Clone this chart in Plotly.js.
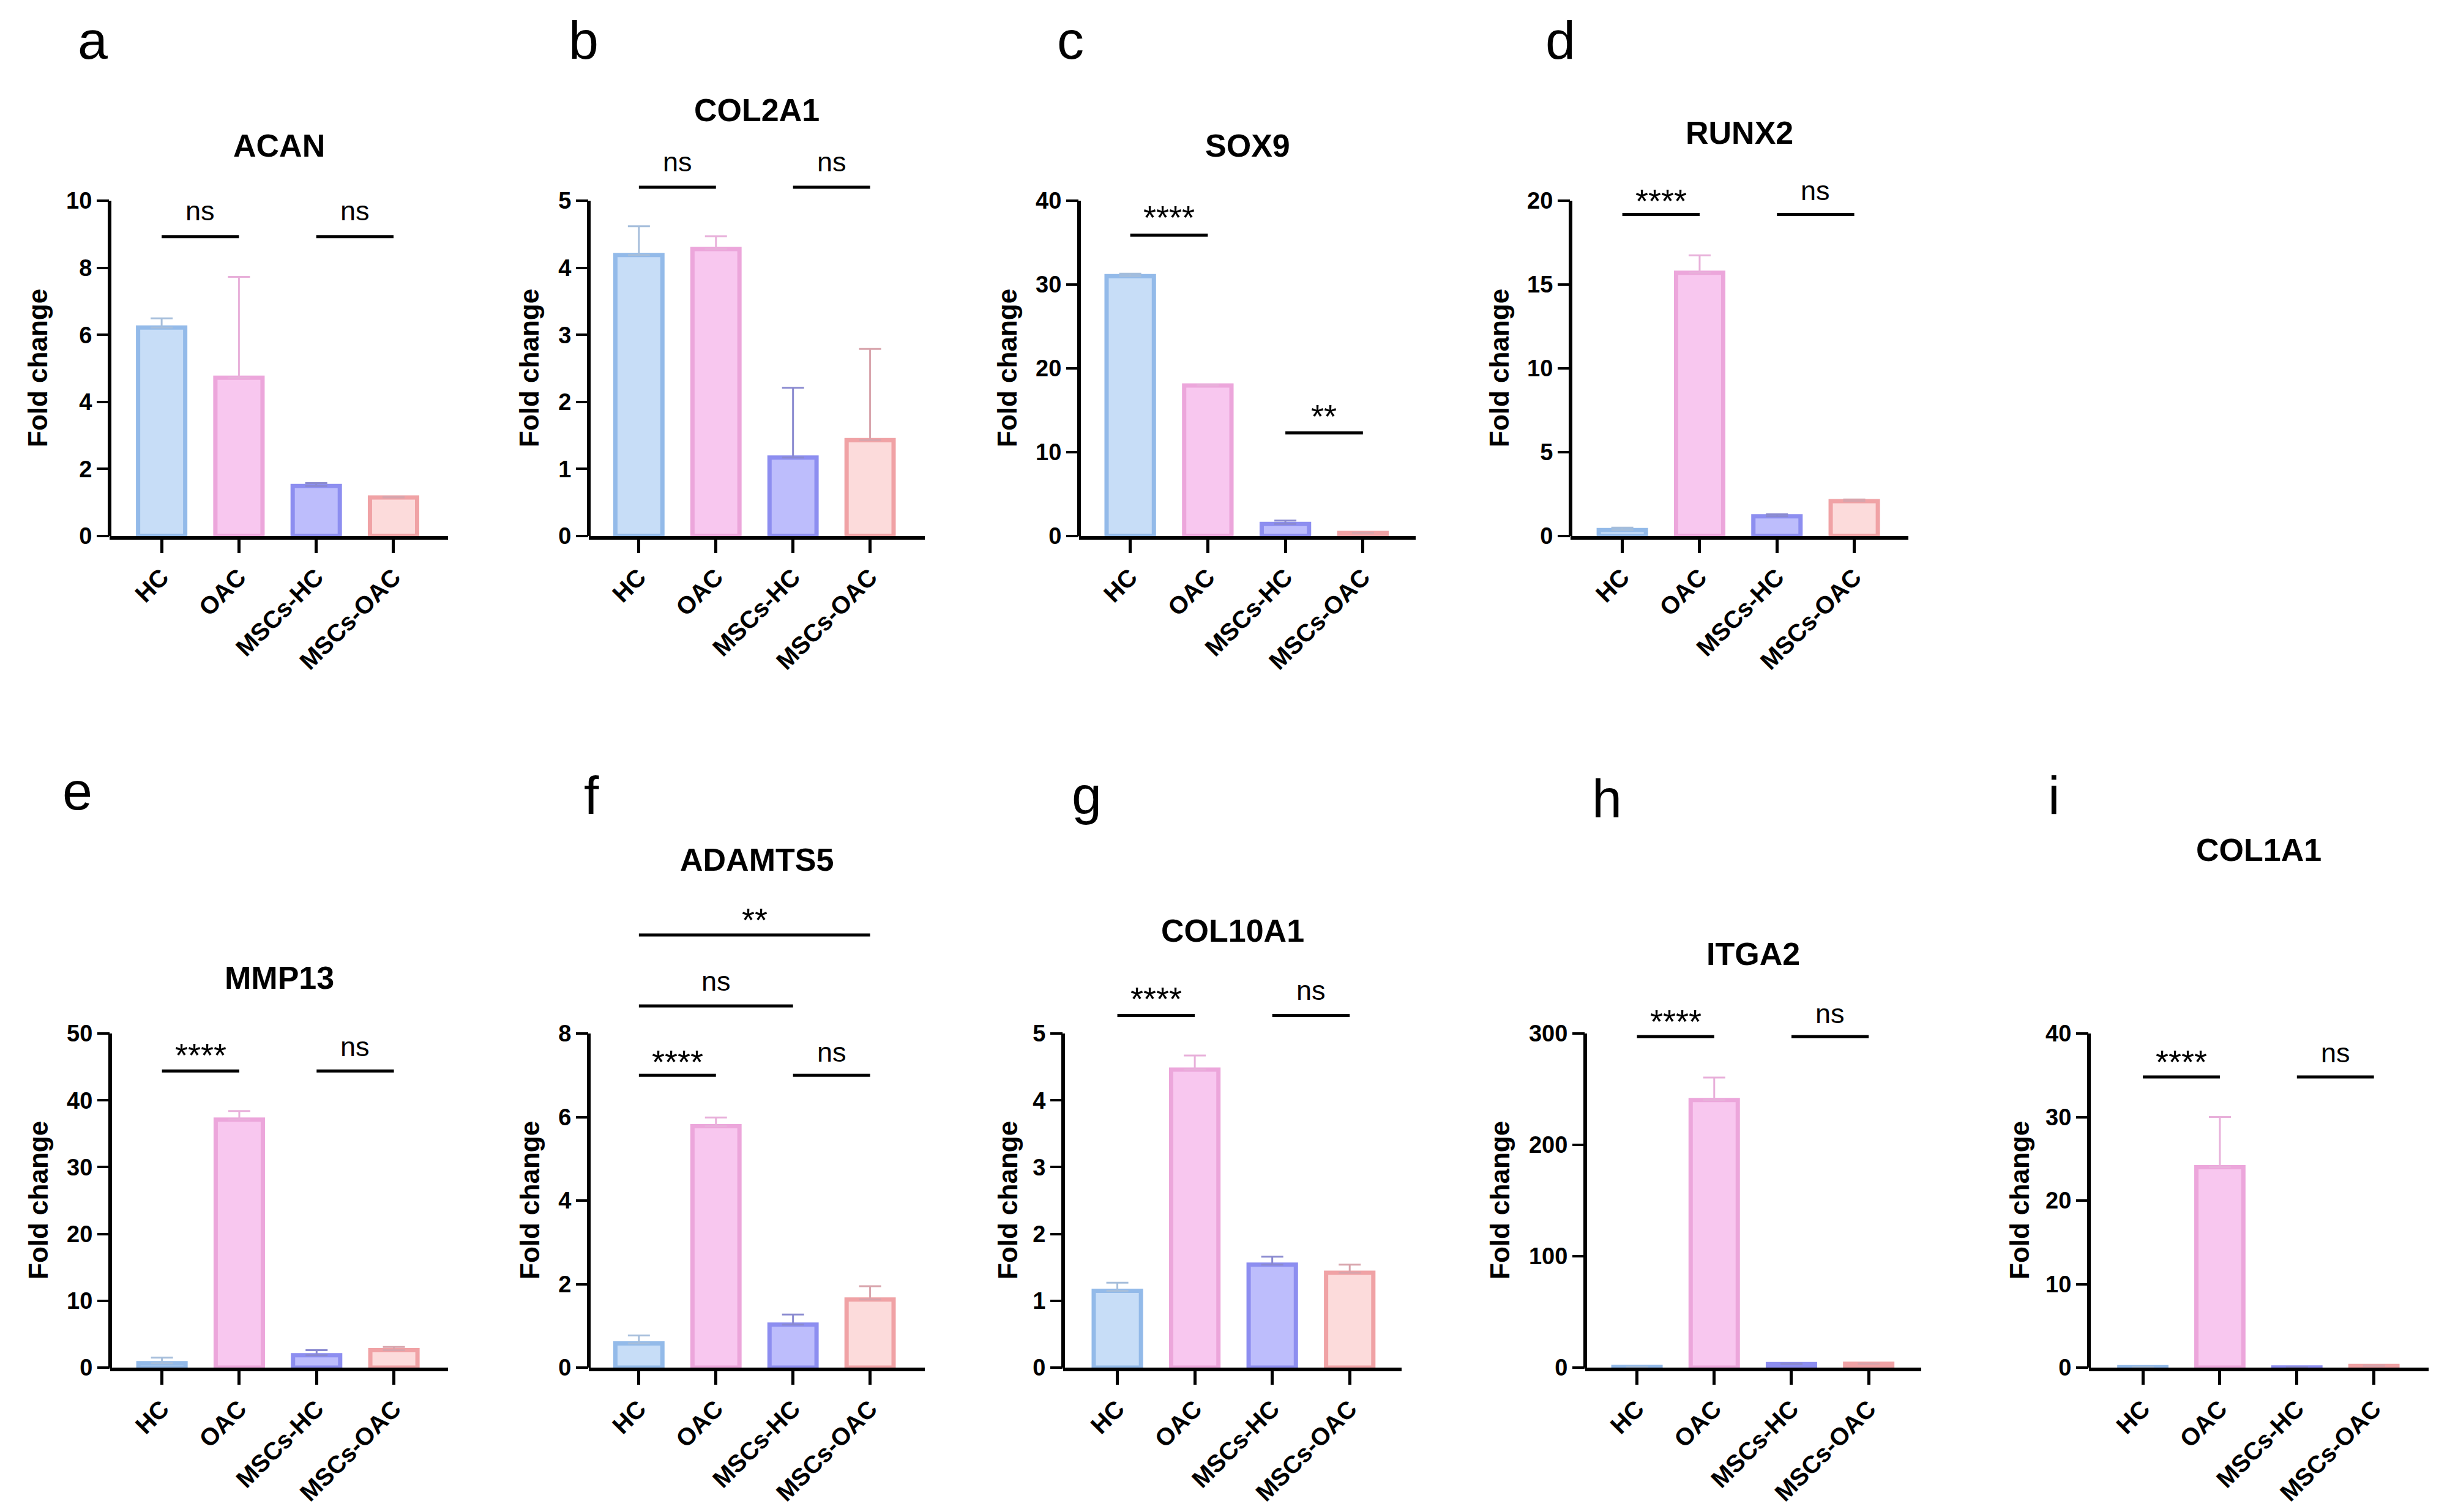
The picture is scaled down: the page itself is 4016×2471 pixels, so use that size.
<!DOCTYPE html>
<html>
<head>
<meta charset="utf-8">
<script src="https://cdn.plot.ly/plotly-3.0.1.min.js"></script>
<style>
  html, body { margin: 0; padding: 0; background: #ffffff; }
  #fig { width: 4016px; height: 2471px; }
</style>
</head>
<body>
<div id="fig"></div>
<script>
// ---- data: relative expression (fold change), mean and SD per group ----
const groups = ['HC', 'OAC', 'MSCs-HC', 'MSCs-OAC'];

const acanMean    = [6.22, 4.72, 1.49, 1.15];
const acanSD      = [0.27, 3.01, 0.09, 0.02];
const col2a1Mean  = [4.19, 4.28, 1.17, 1.43];
const col2a1SD    = [0.43, 0.19, 1.04, 1.36];
const sox9Mean    = [31.0, 17.95, 1.44, 0.36];
const sox9SD      = [0.3, 0.1, 0.41, 0.05];
const runx2Mean   = [0.36, 15.7, 1.18, 2.08];
const runx2SD     = [0.14, 1.04, 0.12, 0.10];
const mmp13Mean   = [0.67, 37.1, 1.85, 2.6];
const mmp13SD     = [0.81, 1.3, 0.75, 0.5];
const adamts5Mean = [0.58, 5.78, 1.03, 1.63];
const adamts5SD   = [0.19, 0.21, 0.24, 0.32];
const col10a1Mean = [1.15, 4.46, 1.54, 1.42];
const col10a1SD   = [0.12, 0.21, 0.12, 0.12];
const itga2Mean   = [0.5, 240.3, 3.2, 3.4];
const itga2SD     = [0.2, 20.1, 0.5, 0.3];
const col1a1Mean  = [0.06, 24.0, 0.02, 0.2];
const col1a1SD    = [0.02, 6.0, 0.01, 0.05];

// significance brackets: [from group, to group, bar height, label, label height]
const acanSig    = [[0, 1, 8.93, 'ns', 9.69], [2, 3, 8.93, 'ns', 9.69]];
const col2a1Sig  = [[0, 1, 5.2, 'ns', 5.58], [2, 3, 5.2, 'ns', 5.58]];
const sox9Sig    = [[0, 1, 35.9, '****', 38.0], [2, 3, 12.3, '**', 14.3]];
const runx2Sig   = [[0, 1, 19.18, '****', 20.0], [2, 3, 19.18, 'ns', 20.6]];
const mmp13Sig   = [[0, 1, 44.4, '****', 46.8], [2, 3, 44.4, 'ns', 48.0]];
const adamts5Sig = [[0, 1, 7.0, '****', 7.32], [2, 3, 7.0, 'ns', 7.56],
                    [0, 2, 8.66, 'ns', 9.26], [0, 3, 10.36, '**', 10.72]];
const col10a1Sig = [[0, 1, 5.27, '****', 5.52], [2, 3, 5.27, 'ns', 5.65]];
const itga2Sig   = [[0, 1, 297.3, '****', 311], [2, 3, 297.3, 'ns', 318]];
const col1a1Sig  = [[0, 1, 34.8, '****', 36.6], [2, 3, 34.8, 'ns', 37.7]];

// y-axis tick ranges
const tickMax  = [10, 5, 40, 20, 50, 8, 5, 300, 40];
const tickStep = [2, 1, 10, 5, 10, 2, 1, 100, 10];

const genes   = ['ACAN', 'COL2A1', 'SOX9', 'RUNX2', 'MMP13', 'ADAMTS5', 'COL10A1', 'ITGA2', 'COL1A1'];
const letters = ['a', 'b', 'c', 'd', 'e', 'f', 'g', 'h', 'i'];
const means   = [acanMean, col2a1Mean, sox9Mean, runx2Mean, mmp13Mean, adamts5Mean, col10a1Mean, itga2Mean, col1a1Mean];
const sds     = [acanSD, col2a1SD, sox9SD, runx2SD, mmp13SD, adamts5SD, col10a1SD, itga2SD, col1a1SD];
const sigs    = [acanSig, col2a1Sig, sox9Sig, runx2Sig, mmp13Sig, adamts5Sig, col10a1Sig, itga2Sig, col1a1Sig];

// ---- page geometry (pixels) ----
const W = 4016, H = 2471;
// axis frame: left/right of x axis, top (max tick) / bottom (zero) of y axis
const frames = [
  {l: 179,  r: 732,  t: 328,  b: 876,  xr: [-0.674, 3.705], titleY: 238, letX: 151,  letBase: 95,   labX: 62},
  {l: 962,  r: 1511, t: 328,  b: 876,  xr: [-0.650, 3.710], titleY: 180, letX: 953,  letBase: 95,   labX: 865},
  {l: 1763, r: 2313, t: 328,  b: 876,  xr: [-0.660, 3.680], titleY: 238, letX: 1749, letBase: 95,   labX: 1646},
  {l: 2566, r: 3118, t: 328,  b: 876,  xr: [-0.670, 3.700], titleY: 217, letX: 2549, letBase: 95,   labX: 2450},
  {l: 180,  r: 732,  t: 1689, b: 2235, xr: [-0.670, 3.700], titleY: 1598, letX: 126, letBase: 1322, labX: 62},
  {l: 962,  r: 1511, t: 1689, b: 2235, xr: [-0.650, 3.710], titleY: 1405, letX: 966, letBase: 1330, labX: 865},
  {l: 1737, r: 2290, t: 1689, b: 2235, xr: [-0.700, 3.670], titleY: 1521, letX: 1775, letBase: 1330, labX: 1646},
  {l: 2590, r: 3139, t: 1689, b: 2235, xr: [-0.670, 3.680], titleY: 1559, letX: 2625, letBase: 1334, labX: 2450},
  {l: 3413, r: 3968, t: 1689, b: 2235, xr: [-0.700, 3.710], titleY: 1389, letX: 3356, letBase: 1330, labX: 3299}
];

// group colours: fill, outline, error bar
const fills = ['#c7ddf7', '#f8c7ef', '#bdbdfc', '#fcdbdb'];
const edges = ['#93bae9', '#eca6db', '#8d8ef0', '#f0a2a5'];
const errs  = ['#a6bedb', '#e8b0da', '#8a8ad0', '#d8a4ac'];

const FONT = '"Liberation Sans", Arial, Helvetica, sans-serif';

const traces = [];
const shapes = [];
const annotations = [];
const layout = {
  width: W, height: H,
  margin: {l: 0, r: 0, t: 0, b: 0},
  paper_bgcolor: '#ffffff', plot_bgcolor: 'rgba(0,0,0,0)',
  showlegend: false, barmode: 'overlay',
  font: {family: FONT, color: '#000000'}
};

genes.forEach((gene, k) => {
  const s = k === 0 ? '' : String(k + 1);
  const f = frames[k];
  const sig = sigs[k];

  // extend the y range above the last tick so the brackets fit inside the subplot
  const labelTop = Math.max(...sig.map(d => d[4]));
  const rangeTop = Math.max(tickMax[k], labelTop + 0.05 * tickMax[k]);
  const topPx = f.b - (rangeTop / tickMax[k]) * (f.b - f.t);

  const tv = [];
  for (let v = 0; v <= tickMax[k] + 1e-9; v += tickStep[k]) tv.push(v);

  layout['xaxis' + s] = {
    domain: [f.l / W, f.r / W], anchor: 'y' + s,
    type: 'category', categoryorder: 'array', categoryarray: groups,
    range: f.xr, fixedrange: true,
    showline: true, linecolor: '#000000', linewidth: 6,
    ticks: 'outside', ticklen: 22, tickwidth: 5, tickcolor: '#000000',
    tickangle: -45, tickfont: {family: FONT, size: 40, weight: 'bold', color: '#000000'},
    showgrid: false, zeroline: false
  };
  layout['yaxis' + s] = {
    domain: [1 - f.b / H, 1 - topPx / H], anchor: 'x' + s,
    range: [0, rangeTop], fixedrange: true,
    tickmode: 'array', tickvals: tv,
    ticks: 'outside', ticklen: 20, tickwidth: 4, tickcolor: '#000000',
    tickfont: {family: FONT, size: 38, weight: 'bold', color: '#000000'},
    showline: false, showgrid: false, zeroline: false
  };

  // bars with upward SD error bars
  groups.forEach((g, i) => {
    traces.push({
      type: 'bar', x: [g], y: [means[k][i]], width: [0.61],
      xaxis: 'x' + s, yaxis: 'y' + s,
      marker: {color: fills[i], line: {color: edges[i], width: 7}},
      error_y: {type: 'data', symmetric: false, array: [sds[k][i]], arrayminus: [0],
                color: errs[i], thickness: 3, width: 18},
      hoverinfo: 'skip'
    });
  });

  // y axis line from zero to the top tick
  shapes.push({type: 'line', xref: 'x' + s + ' domain', yref: 'y' + s,
               x0: 0, x1: 0, y0: 0, y1: tickMax[k], line: {color: '#000000', width: 6}});

  // significance brackets
  sig.forEach(([a, b, yb, txt, yt]) => {
    shapes.push({type: 'line', xref: 'x' + s, yref: 'y' + s,
                 x0: a, x1: b, y0: yb, y1: yb, line: {color: '#000000', width: 5}});
    annotations.push({xref: 'x' + s, yref: 'y' + s, x: (a + b) / 2, y: yt,
                      text: txt, showarrow: false, xanchor: 'center', yanchor: 'middle',
                      font: {family: FONT, size: txt === 'ns' ? 45 : 54, color: '#000000'}});
  });

  // gene title
  annotations.push({xref: 'paper', yref: 'paper', x: (f.l + f.r) / 2 / W, y: 1 - f.titleY / H,
                    text: gene, showarrow: false, xanchor: 'center', yanchor: 'middle',
                    font: {family: FONT, size: 52, weight: 'bold', color: '#000000'}});
  // panel letter
  annotations.push({xref: 'paper', yref: 'paper', x: f.letX / W, y: 1 - (f.letBase - 30) / H,
                    text: letters[k], showarrow: false, xanchor: 'center', yanchor: 'middle',
                    font: {family: FONT, size: 88, color: '#000000'}});
  // y axis title
  annotations.push({xref: 'paper', yref: 'paper', x: f.labX / W, y: 1 - (f.t + f.b) / 2 / H,
                    text: 'Fold change', textangle: -90, showarrow: false,
                    xanchor: 'center', yanchor: 'middle',
                    font: {family: FONT, size: 44, weight: 'bold', color: '#000000'}});
});

layout.shapes = shapes;
layout.annotations = annotations;

Plotly.newPlot('fig', traces, layout, {displayModeBar: false, staticPlot: true});
</script>
</body>
</html>
